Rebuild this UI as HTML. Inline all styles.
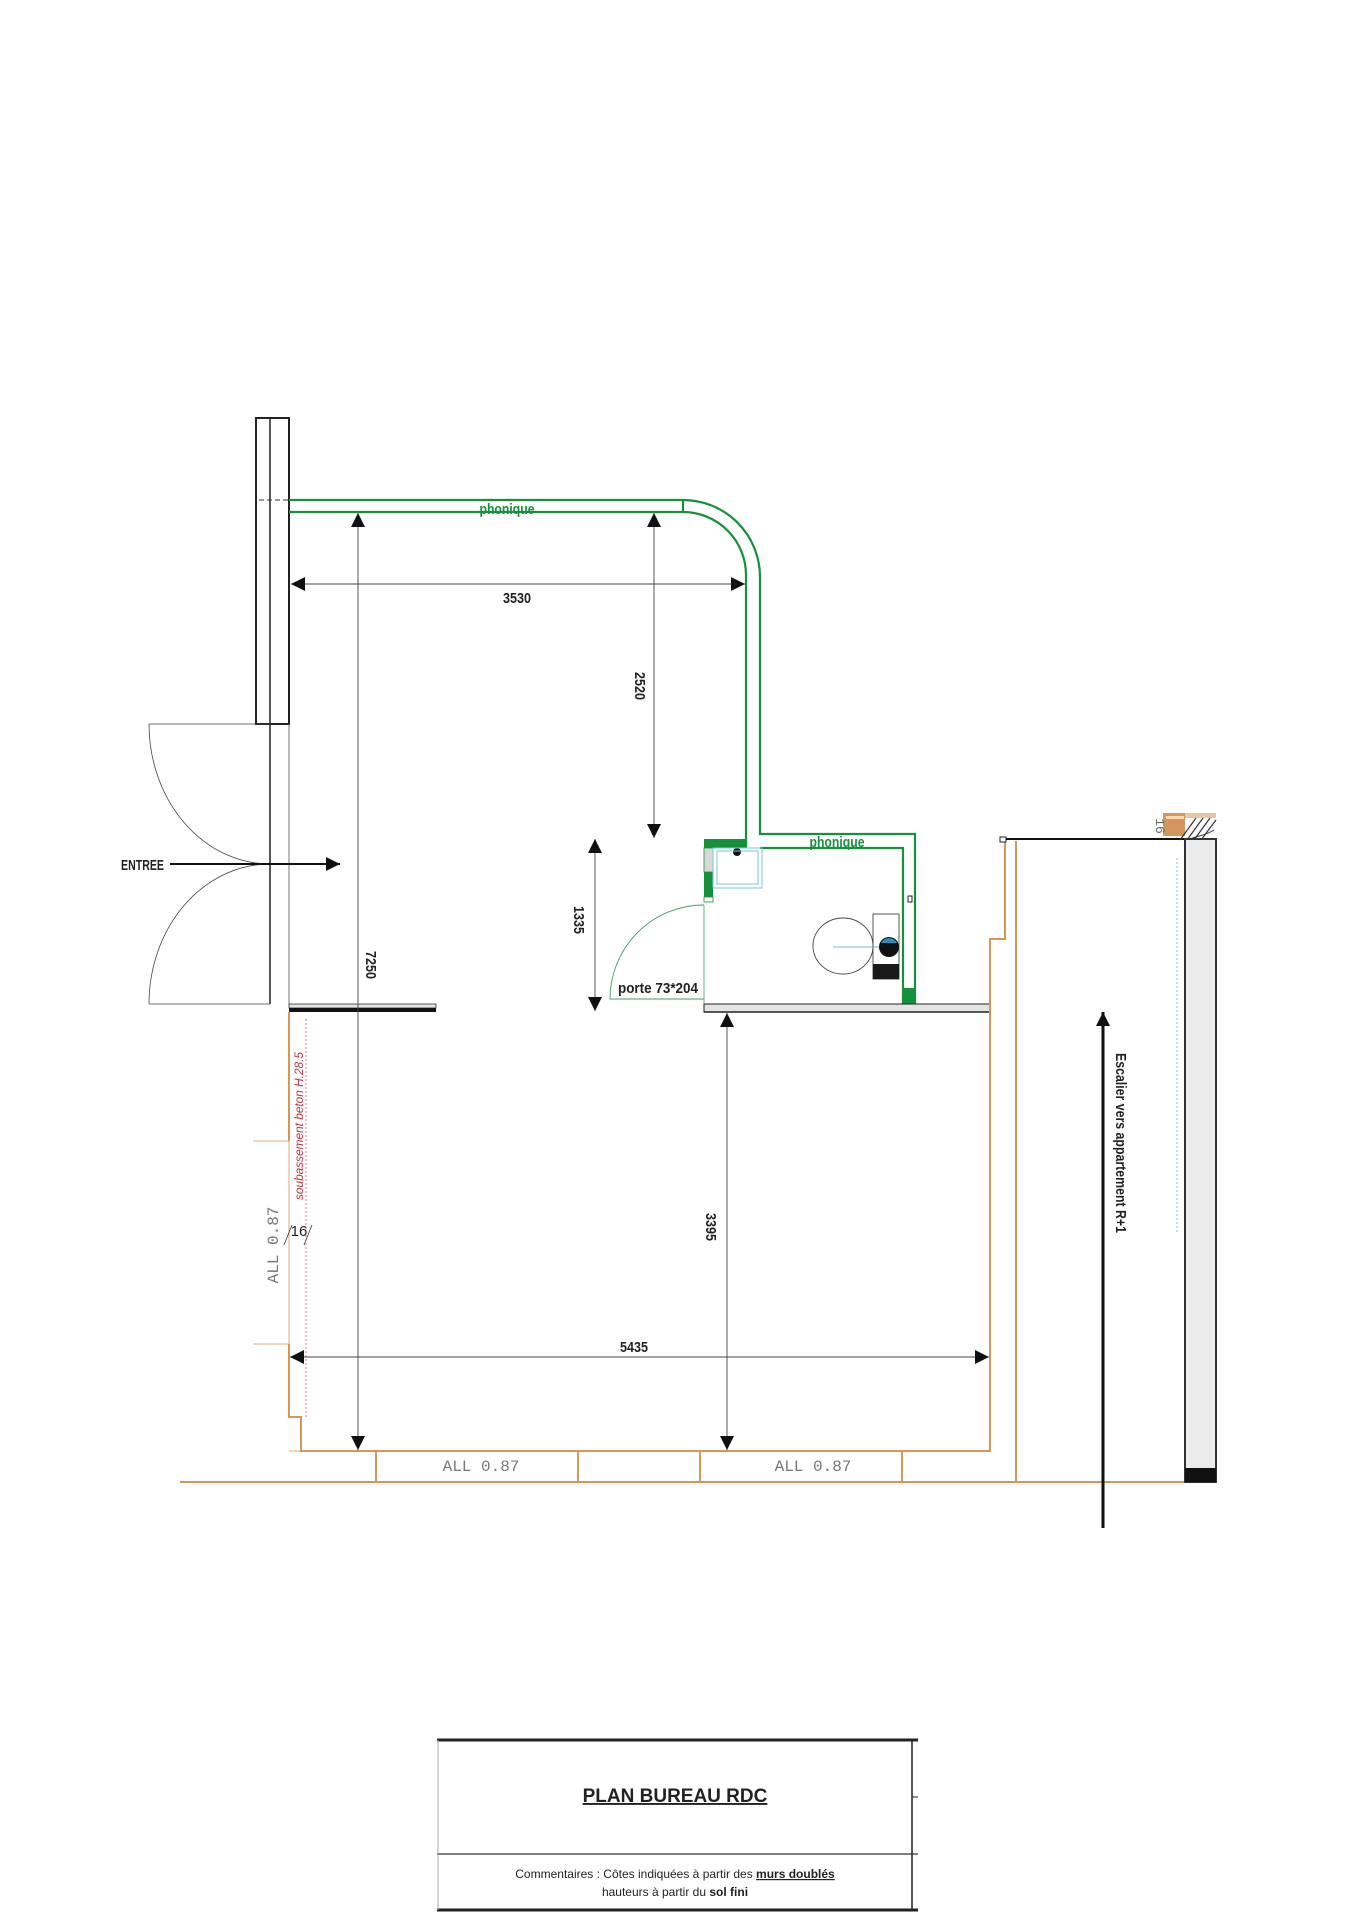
<!DOCTYPE html>
<html><head><meta charset="utf-8"><style>
html,body{margin:0;padding:0;background:#fff}
svg{display:block}
.d{font-family:"Liberation Sans Narrow","Liberation Sans",sans-serif;font-size:15px;fill:#222}
</style></head><body>
<svg width="1360" height="1924" viewBox="0 0 1360 1924" xmlns="http://www.w3.org/2000/svg">
<defs>
<marker id="a" viewBox="0 0 10 10" refX="10" refY="5" markerWidth="14" markerHeight="14" markerUnits="userSpaceOnUse" orient="auto-start-reverse"><path d="M0,0 L10,5 L0,10 z" fill="#111"/></marker>
</defs>
<!-- left column -->
<rect x="256" y="418" width="33" height="306" fill="none" stroke="#222" stroke-width="2"/>
<line x1="270" y1="418" x2="270" y2="1004" stroke="#222" stroke-width="1.5"/>
<line x1="259" y1="500" x2="289" y2="500" stroke="#333" stroke-width="1" stroke-dasharray="5,3"/>
<line x1="289" y1="724" x2="289" y2="1004" stroke="#555" stroke-width="0.8"/>
<!-- entrance doors -->
<line x1="149" y1="724" x2="270" y2="724" stroke="#444" stroke-width="0.8"/>
<line x1="149" y1="1004" x2="270" y2="1004" stroke="#444" stroke-width="0.8"/>
<path d="M149,724 A121,140 0 0 0 270,864" fill="none" stroke="#444" stroke-width="0.8"/>
<path d="M270,864 A121,140 0 0 0 149,1004" fill="none" stroke="#444" stroke-width="0.8"/>
<text x="121" y="870" class="d" font-size="14" font-weight="bold" textLength="43" lengthAdjust="spacingAndGlyphs">ENTREE</text>
<line x1="170" y1="864" x2="340" y2="864" stroke="#111" stroke-width="2" marker-end="url(#a)"/>
<!-- green phonique wall -->
<g fill="none" stroke="#16913b" stroke-width="2.2">
<path d="M289,500 L683,500 A77,77 0 0 1 760,577 L760,834 L915,834 L915,1004"/>
<path d="M289,512 L683,512 A63,63 0 0 1 746,575 L746,848"/>
<path d="M760,848 L903,848 L903,1004"/>
<line x1="683" y1="500" x2="683" y2="512"/>
</g>
<text x="507" y="514" class="d" style="fill:#16913b" font-size="14" font-weight="bold" text-anchor="middle" textLength="55" lengthAdjust="spacingAndGlyphs">phonique</text>
<text x="837" y="847" class="d" style="fill:#16913b" font-size="14" font-weight="bold" text-anchor="middle" textLength="55" lengthAdjust="spacingAndGlyphs">phonique</text>
<!-- bathroom -->
<rect x="704" y="839" width="43" height="9" fill="#16913b"/>
<rect x="704" y="848" width="9" height="24" fill="#d8d8d8" stroke="#16913b" stroke-width="0.8"/>
<rect x="704" y="872" width="9" height="25" fill="#16913b"/>
<rect x="704" y="897" width="9" height="5" fill="#fff" stroke="#16913b" stroke-width="0.8"/>
<rect x="903" y="988" width="12" height="16" fill="#16913b"/>
<circle cx="737" cy="852" r="4" fill="#111"/>
<rect x="713" y="848" width="49" height="40" fill="none" stroke="#7cc6d8" stroke-width="1"/>
<rect x="717" y="851" width="41" height="33" fill="none" stroke="#7cc6d8" stroke-width="1"/>
<line x1="704" y1="905" x2="704" y2="1004" stroke="#4a9a6a" stroke-width="0.8"/>
<path d="M704,905 A94,94 0 0 0 610,999 L704,999" fill="none" stroke="#4a9a6a" stroke-width="0.9"/>
<text x="618" y="993" class="d" font-size="15" font-weight="bold" textLength="80" lengthAdjust="spacingAndGlyphs">porte 73*204</text>
<ellipse cx="843" cy="946" rx="30" ry="28" fill="none" stroke="#444" stroke-width="0.9"/>
<rect x="873" y="914" width="26" height="65" fill="#fff" stroke="#444" stroke-width="0.9"/>
<rect x="873" y="964" width="26" height="15" fill="#1a1a1a"/>
<line x1="833" y1="947" x2="879" y2="947" stroke="#4aa3c8" stroke-width="0.8"/>
<circle cx="889" cy="947" r="10" fill="#111"/>
<path d="M881,943 A9,9 0 0 1 897,943 z" fill="#2a8fc0"/>
<rect x="908" y="896" width="4" height="6" fill="#fff" stroke="#222" stroke-width="1"/>
<!-- interior walls -->
<rect x="704" y="1004" width="286" height="8" fill="#e4e4e4" stroke="#222" stroke-width="1"/>
<line x1="704" y1="1012" x2="990" y2="1012" stroke="#222" stroke-width="1.5"/>
<rect x="289" y="1004" width="147" height="4" fill="#e4e4e4" stroke="#333" stroke-width="0.8"/>
<rect x="289" y="1008" width="147" height="4" fill="#111"/>
<!-- orange outline -->
<g fill="none" stroke="#d6955a" stroke-width="2">
<path d="M289,1012 L289,1141"/>
<path d="M289,1344 L289,1417 L301,1417 L301,1451 L990,1451 L990,939 L1005,939 L1005,839"/>
<line x1="1016" y1="841" x2="1016" y2="1482"/>
<line x1="180" y1="1482" x2="1216" y2="1482"/>
<line x1="376" y1="1451" x2="376" y2="1482"/>
<line x1="578" y1="1451" x2="578" y2="1482"/>
<line x1="700" y1="1451" x2="700" y2="1482"/>
<line x1="902" y1="1451" x2="902" y2="1482"/>
</g>
<g stroke="#d6955a" stroke-width="0.8" fill="none">
<line x1="253" y1="1141" x2="289" y2="1141"/>
<line x1="289" y1="1141" x2="289" y2="1344"/>
<line x1="253" y1="1344" x2="289" y2="1344"/>
<line x1="289" y1="1451" x2="301" y2="1451"/>
</g>
<line x1="306" y1="1019" x2="306" y2="1417" stroke="#e07080" stroke-width="1" stroke-dasharray="2,2"/>
<text transform="translate(303,1126) rotate(-90)" font-family="Liberation Sans, sans-serif" font-style="italic" font-size="12" fill="#c0303c" text-anchor="middle" textLength="148" lengthAdjust="spacingAndGlyphs">soubassement beton H.28.5</text>
<text x="299" y="1236" class="d" font-size="14" text-anchor="middle">16</text>
<line x1="284" y1="1245" x2="292" y2="1225" stroke="#333" stroke-width="0.8"/>
<line x1="304" y1="1245" x2="312" y2="1225" stroke="#333" stroke-width="0.8"/>
<text transform="translate(278,1245) rotate(-90)" font-family="Liberation Mono, monospace" font-size="16" fill="#777" text-anchor="middle">ALL 0.87</text>
<text x="481" y="1471" font-family="Liberation Mono, monospace" font-size="16" fill="#777" text-anchor="middle">ALL 0.87</text>
<text x="813" y="1471" font-family="Liberation Mono, monospace" font-size="16" fill="#777" text-anchor="middle">ALL 0.87</text>
<!-- stair room -->
<rect x="1000" y="837" width="6" height="5" fill="#fff" stroke="#222" stroke-width="1"/>
<line x1="1006" y1="839" x2="1185" y2="839" stroke="#111" stroke-width="2"/>
<rect x="1163" y="813" width="22" height="23" fill="#d6955a"/>
<rect x="1166" y="816" width="18" height="3" fill="#f3d9c0"/>
<rect x="1185" y="813" width="31" height="5" fill="#e8c5a0"/>
<g stroke="#333" stroke-width="1.2">
<line x1="1180" y1="840" x2="1196" y2="818"/><line x1="1187" y1="840" x2="1203" y2="818"/>
<line x1="1194" y1="840" x2="1210" y2="818"/><line x1="1201" y1="840" x2="1216" y2="820"/>
</g>
<path d="M1188,840 C1195,836 1205,836 1214,830" fill="none" stroke="#333" stroke-width="1"/>
<text transform="translate(1156,826) rotate(90)" font-family="Liberation Mono, monospace" font-size="13" fill="#666" text-anchor="middle">16</text>
<rect x="1185" y="839" width="31" height="643" fill="#ebebeb" stroke="#333" stroke-width="2"/>
<rect x="1185" y="1468" width="31" height="14" fill="#111"/>
<line x1="1177" y1="858" x2="1177" y2="1233" stroke="#7cc6d8" stroke-width="1" stroke-dasharray="2,2"/>
<line x1="1103" y1="1528" x2="1103" y2="1012" stroke="#111" stroke-width="3" marker-end="url(#a)"/>
<text transform="translate(1116,1143) rotate(90)" class="d" font-size="15" font-weight="bold" text-anchor="middle" textLength="180" lengthAdjust="spacingAndGlyphs">Escalier vers appartement R+1</text>
<!-- dimensions -->
<g stroke="#444" stroke-width="0.9">
<line x1="291" y1="584" x2="745" y2="584" marker-start="url(#a)" marker-end="url(#a)"/>
<line x1="358" y1="513" x2="358" y2="1450" marker-start="url(#a)" marker-end="url(#a)"/>
<line x1="654" y1="513" x2="654" y2="838" marker-start="url(#a)" marker-end="url(#a)"/>
<line x1="595" y1="839" x2="595" y2="1011" marker-start="url(#a)" marker-end="url(#a)"/>
<line x1="727" y1="1013" x2="727" y2="1450" marker-start="url(#a)" marker-end="url(#a)"/>
<line x1="290" y1="1357" x2="989" y2="1357" marker-start="url(#a)" marker-end="url(#a)"/>
</g>
<g font-weight="bold">
<text x="517" y="603" class="d" text-anchor="middle" textLength="28" lengthAdjust="spacingAndGlyphs">3530</text>
<text x="634" y="1352" class="d" text-anchor="middle" textLength="28" lengthAdjust="spacingAndGlyphs">5435</text>
<text transform="translate(366,965) rotate(90)" class="d" text-anchor="middle" textLength="28" lengthAdjust="spacingAndGlyphs">7250</text>
<text transform="translate(635,686) rotate(90)" class="d" text-anchor="middle" textLength="28" lengthAdjust="spacingAndGlyphs">2520</text>
<text transform="translate(574,920) rotate(90)" class="d" text-anchor="middle" textLength="28" lengthAdjust="spacingAndGlyphs">1335</text>
<text transform="translate(706,1227) rotate(90)" class="d" text-anchor="middle" textLength="28" lengthAdjust="spacingAndGlyphs">3395</text>
</g>
<!-- title block -->
<line x1="437" y1="1740" x2="918" y2="1740" stroke="#222" stroke-width="3"/>
<line x1="437" y1="1910" x2="918" y2="1910" stroke="#222" stroke-width="3"/>
<line x1="437" y1="1854" x2="918" y2="1854" stroke="#333" stroke-width="1.2"/>
<line x1="438" y1="1740" x2="438" y2="1910" stroke="#aaa" stroke-width="1"/>
<line x1="912" y1="1740" x2="912" y2="1910" stroke="#222" stroke-width="1.5"/>
<line x1="912" y1="1797" x2="918" y2="1797" stroke="#222" stroke-width="1"/>
<text x="675" y="1802" font-family="Liberation Sans, sans-serif" font-weight="bold" font-size="19" fill="#222" text-anchor="middle" text-decoration="underline">PLAN BUREAU RDC</text>
<text x="675" y="1878" font-family="Liberation Sans, sans-serif" font-size="12" fill="#222" text-anchor="middle">Commentaires : Côtes indiquées à partir des <tspan font-weight="bold" text-decoration="underline">murs doublés</tspan></text>
<text x="675" y="1896" font-family="Liberation Sans, sans-serif" font-size="12" fill="#222" text-anchor="middle">hauteurs à partir du <tspan font-weight="bold">sol fini</tspan></text>
</svg>
</body></html>
